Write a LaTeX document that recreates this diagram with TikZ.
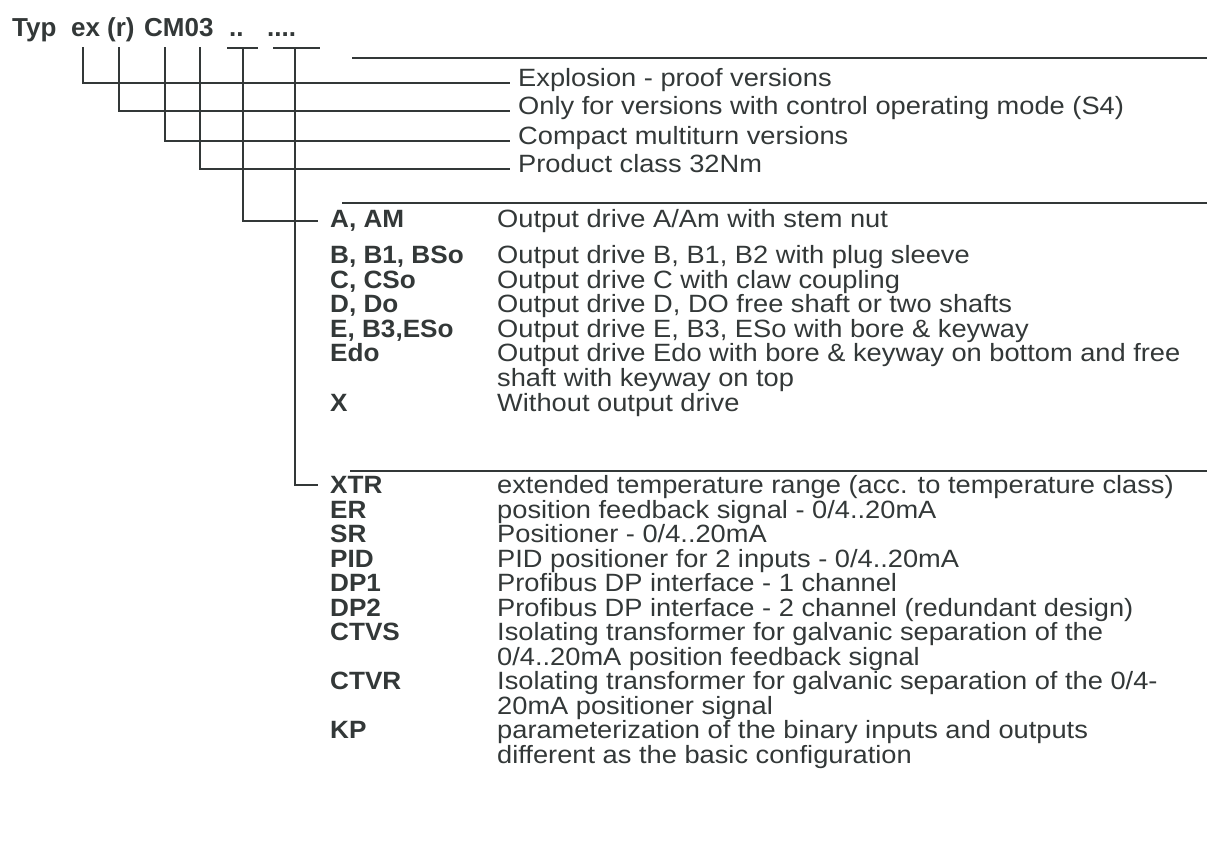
\documentclass[tikz,border=0pt]{standalone}
\usepackage{fontspec}
\setmainfont{Liberation Sans}
\newfontfamily\descfont[FakeStretch=1.09]{Liberation Sans}
\newfontfamily\codefont[FakeStretch=1.045]{Liberation Sans}
\begin{document}
\begin{tikzpicture}[x=1pt,y=-1pt]
\definecolor{ink}{HTML}{333838}
\tikzset{
  ln/.style={draw=ink,line width=1.8pt},
  tt/.style={anchor=base west,inner sep=0pt,text=ink,font=\bfseries\fontsize{26}{26}\selectfont},
  cd/.style={anchor=base west,inner sep=0pt,text=ink,font=\codefont\bfseries\fontsize{25}{25}\selectfont},
  ds/.style={anchor=base west,inner sep=0pt,text=ink,font=\descfont\fontsize{25}{25}\selectfont},
}
\useasboundingbox (0,0) rectangle (1209,844);
% title
\node[tt] (typ) at (12,36) {Typ};
\node[tt] (ex) at (71,36) {ex};
\node[tt] (r) at (107,36) {(r)};
\node[tt] (cm) at (144,36) {CM03};
\node[tt] (d2) at (229,36) {..};
\node[tt] (d4) at (267,36) {....};
% bars under dots
\coordinate (b2a) at (227,48); \coordinate (b2b) at (258,48);
\coordinate (b4a) at (273,48); \coordinate (b4b) at (320,48);
\draw[ln] (b2a) -- (b2b);
\draw[ln] (b4a) -- (b4b);
% separators
\coordinate (s1a) at (352,58); \coordinate (s1b) at (1207,58);
\coordinate (s2a) at (342,203); \coordinate (s2b) at (1207,203);
\coordinate (s3a) at (350,471); \coordinate (s3b) at (1207,471);
\draw[ln] (s1a) -- (s1b);
\draw[ln] (s2a) -- (s2b);
\draw[ln] (s3a) -- (s3b);
% top descriptions
\node[ds] (t1) at (518,86) {Explosion - proof versions};
\node[ds] (t2) at (518,114) {Only for versions with control operating mode (S4)};
\node[ds] (t3) at (518,144) {Compact multiturn versions};
\node[ds] (t4) at (518,172) {Product class 32Nm};
% L connectors
\coordinate (v1) at (83,47);  \draw[ln] (v1) |- ([xshift=-8pt,yshift=3pt]t1.base west);
\coordinate (v2) at (119,47); \draw[ln] (v2) |- ([xshift=-8pt,yshift=3pt]t2.base west);
\coordinate (v3) at (165,47); \draw[ln] (v3) |- ([xshift=-8pt,yshift=3pt]t3.base west);
\coordinate (v4) at (200,47); \draw[ln] (v4) |- ([xshift=-8pt,yshift=3pt]t4.base west);
% block 1
\def\cx{330}\def\dx{497}
\node[cd] (a) at (\cx,227) {A, AM};
\node[ds] (da) at (\dx,227) {Output drive A/Am with stem nut};
\node[cd] (b) at (\cx,263.5) {B, B1, BSo};
\node[ds] (db) at (\dx,263.5) {Output drive B, B1, B2 with plug sleeve};
\node[cd] (c) at (\cx,288) {C, CSo};
\node[ds] (dc) at (\dx,288) {Output drive C with claw coupling};
\node[cd] (d) at (\cx,312.5) {D, Do};
\node[ds] (dd) at (\dx,312.5) {Output drive D, DO free shaft or two shafts};
\node[cd] (e) at (\cx,337) {E, B3,ESo};
\node[ds] (de) at (\dx,337) {Output drive E, B3, ESo with bore \& keyway};
\node[cd] (edo) at (\cx,361.5) {Edo};
\node[ds] (dedo) at (\dx,361.5) {Output drive Edo with bore \& keyway on bottom and free};
\node[ds] (dedo2) at (\dx,386) {shaft with keyway on top};
\node[cd] (x) at (\cx,411) {X};
\node[ds] (dx) at (\dx,411) {Without output drive};
% block 2
\node[cd] (xtr) at (\cx,493.5) {XTR};
\node[ds] (dxtr) at (\dx,493.5) {extended temperature range (acc. to temperature class)};
\node[cd] (er) at (\cx,518) {ER};
\node[ds] (der) at (\dx,518) {position feedback signal - 0/4..20mA};
\node[cd] (sr) at (\cx,542.5) {SR};
\node[ds] (dsr) at (\dx,542.5) {Positioner - 0/4..20mA};
\node[cd] (pid) at (\cx,567) {PID};
\node[ds] (dpid) at (\dx,567) {PID positioner for 2 inputs - 0/4..20mA};
\node[cd] (dp1) at (\cx,591.5) {DP1};
\node[ds] (ddp1) at (\dx,591.5) {Profibus DP interface - 1 channel};
\node[cd] (dp2) at (\cx,616) {DP2};
\node[ds] (ddp2) at (\dx,616) {Profibus DP interface - 2 channel (redundant design)};
\node[cd] (ctvs) at (\cx,640.5) {CTVS};
\node[ds] (dctvs) at (\dx,640.5) {Isolating transformer for galvanic separation of the};
\node[ds] (dctvs2) at (\dx,665) {0/4..20mA position feedback signal};
\node[cd] (ctvr) at (\cx,689.5) {CTVR};
\node[ds] (dctvr) at (\dx,689.5) {Isolating transformer for galvanic separation of the 0/4-};
\node[ds] (dctvr2) at (\dx,714) {20mA positioner signal};
\node[cd] (kp) at (\cx,738.5) {KP};
\node[ds] (dkp) at (\dx,738.5) {parameterization of the binary inputs and outputs};
\node[ds] (dkp2) at (\dx,763) {different as the basic configuration};
% connectors to blocks
\coordinate (v5) at (243,48);
\coordinate (v6) at (295,48);
\draw[ln] (v5) |- ([xshift=-12pt,yshift=6pt]a.base west);
\draw[ln] (v6) |- ([xshift=-12pt,yshift=8.5pt]xtr.base west);
\end{tikzpicture}
\end{document}
